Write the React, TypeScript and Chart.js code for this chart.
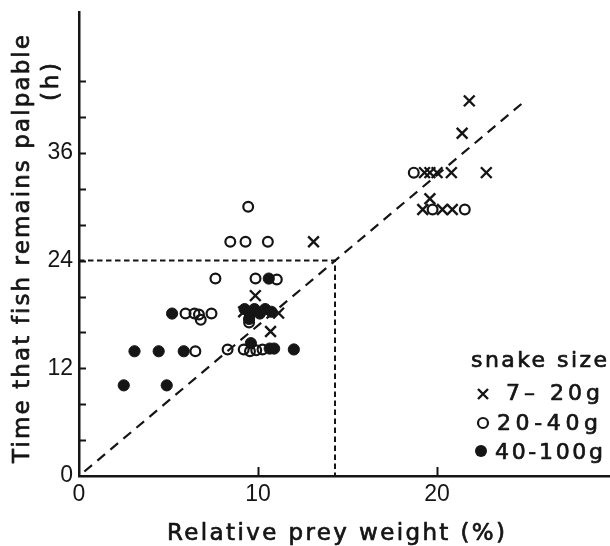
import React, { useEffect, useRef } from 'react';
import { Chart, registerables } from 'chart.js';

Chart.register(...registerables);

// ---------- data ----------
const seriesLabels = ['7– 20g', '20-40g', '40-100g'];
const legendTitle = 'snake size';
const xTitle = 'Relative prey weight (%)';
const yTitle = 'Time that fish remains palpable';
const yUnit = '(h)';

const xTickValues = [0, 10, 20];
const yTickValues = [4, 8, 12, 16, 20, 24, 28, 32, 36, 40, 44];
const yLabelValues = [0, 12, 24, 36];
const X_MAX = 29.66;
const Y_MAX = 51.7;

// snakes 7-20 g (crosses)
const smallSnakes: [number, number][] = [
  [13.1, 26.1], [9.85, 20.1], [11.15, 18.15], [10.7, 16.1], [9.2, 18.3],
  [21.8, 41.8], [21.4, 38.2],
  [19.3, 33.8], [19.6, 33.8], [20.0, 33.8], [20.8, 33.8], [22.75, 33.8],
  [19.6, 30.9], [19.2, 29.7], [20.3, 29.7], [20.85, 29.7],
];

// snakes 20-40 g (open circles)
const mediumSnakes: [number, number][] = [
  [9.45, 30.0],
  [8.45, 26.1], [9.3, 26.1], [10.55, 26.1],
  [7.62, 22.0], [9.86, 22.0], [11.05, 21.9],
  [5.95, 18.1], [6.45, 18.1], [6.7, 18.0], [6.8, 17.4], [7.4, 18.1],
  [9.5, 17.1],
  [6.5, 13.9], [8.3, 14.1], [9.2, 14.1], [9.55, 13.9], [9.9, 14.0], [10.25, 14.1],
  [18.7, 33.8], [19.75, 29.7], [21.55, 29.7],
];

// snakes 40-100 g (filled circles)
const largeSnakes: [number, number][] = [
  [10.6, 22.0],
  [5.2, 18.1],
  [9.25, 18.6], [9.55, 18.0], [9.8, 18.6], [10.1, 18.1], [10.4, 18.6], [10.75, 18.3], [9.5, 17.5],
  [3.1, 13.9], [4.45, 13.9], [5.85, 13.9],
  [9.6, 14.8], [10.65, 14.2], [10.9, 14.2], [12.0, 14.1],
  [2.5, 10.1], [4.9, 10.1],
];

const diagonalLine: [number, number][] = [[0.3, 0.5], [24.8, 41.6]];
const thresholdLine: [number, number][] = [[0, 24], [14.3, 24], [14.3, 0]];

// ---------- styling ----------
const INK = '#151515';
const TEXT_FONT = '"DejaVu Sans", "Noto Sans", sans-serif';
const TICK_FONT = '"Liberation Sans", Arial, sans-serif';

const toXY = (arr: [number, number][]) => arr.map(([x, y]) => ({ x, y }));

function fitText(ctx: CanvasRenderingContext2D, text: string, left: number, baseline: number, width: number, thicken = 0.7) {
  (ctx as any).letterSpacing = '0px';
  const w = ctx.measureText(text).width;
  const n = Array.from(text).length;
  const s = n > 1 ? (width - w) / (n - 1) : 0;
  (ctx as any).letterSpacing = s + 'px';
  ctx.textAlign = 'left';
  ctx.textBaseline = 'alphabetic';
  ctx.fillText(text, left, baseline);
  if (thicken > 0) {
    ctx.lineWidth = thicken;
    ctx.lineJoin = 'round';
    ctx.strokeText(text, left, baseline);
  }
  (ctx as any).letterSpacing = '0px';
}

function drawCross(ctx: CanvasRenderingContext2D, x: number, y: number, h: number) {
  ctx.beginPath();
  ctx.moveTo(x - h, y - h); ctx.lineTo(x + h, y + h);
  ctx.moveTo(x + h, y - h); ctx.lineTo(x - h, y + h);
  ctx.stroke();
}

const inwardTicks = {
  id: 'inwardTicks',
  afterDraw(chart: any) {
    const { ctx, chartArea, scales } = chart;
    ctx.save();
    ctx.strokeStyle = INK;
    ctx.lineWidth = 2;
    ctx.beginPath();
    for (const v of yTickValues) {
      const py = Math.round(scales.y.getPixelForValue(v)) + 0.5;
      ctx.moveTo(chartArea.left, py);
      ctx.lineTo(chartArea.left + 7, py);
    }
    for (const v of xTickValues) {
      if (v === 0) continue;
      const px = Math.round(scales.x.getPixelForValue(v)) + 0.5;
      ctx.moveTo(px, chartArea.bottom);
      ctx.lineTo(px, chartArea.bottom - 9);
    }
    ctx.stroke();
    ctx.restore();
  },
};

const annotations = {
  id: 'annotations',
  afterDraw(chart: any) {
    const { ctx } = chart;
    ctx.save();
    ctx.fillStyle = INK;
    ctx.strokeStyle = INK;

    // x title
    ctx.font = `23px ${TEXT_FONT}`;
    fitText(ctx, xTitle, 167, 540, 338);

    // y title
    ctx.save();
    ctx.translate(29, 463);
    ctx.rotate(-Math.PI / 2);
    fitText(ctx, yTitle, 0, 0, 428);
    ctx.restore();

    ctx.save();
    ctx.translate(58, 101);
    ctx.rotate(-Math.PI / 2);
    fitText(ctx, yUnit, 0, 0, 38);
    ctx.restore();

    // legend
    ctx.font = `22px ${TEXT_FONT}`;
    fitText(ctx, legendTitle, 471, 367, 136);

    ctx.lineWidth = 2.4;
    drawCross(ctx, 483, 394, 5);
    fitText(ctx, seriesLabels[0], 506, 400, 94);

    ctx.lineWidth = 2.2;
    ctx.beginPath();
    ctx.arc(483, 423, 5, 0, Math.PI * 2);
    ctx.stroke();
    fitText(ctx, seriesLabels[1], 497, 430, 101);

    ctx.beginPath();
    ctx.arc(481, 451, 6, 0, Math.PI * 2);
    ctx.fill();
    fitText(ctx, seriesLabels[2], 495, 459, 108);

    ctx.restore();
  },
};

export default function App() {
  const canvasRef = useRef<HTMLCanvasElement | null>(null);

  useEffect(() => {
    if (!canvasRef.current) return;
    const chart = new Chart(canvasRef.current, {
      type: 'scatter',
      data: {
        datasets: [
          {
            label: seriesLabels[0],
            data: toXY(smallSnakes),
            pointStyle: 'crossRot',
            radius: 7.6,
            borderWidth: 2.4,
            borderColor: INK,
            backgroundColor: INK,
          },
          {
            label: seriesLabels[1],
            data: toXY(mediumSnakes),
            pointStyle: 'circle',
            radius: 4.9,
            borderWidth: 2.2,
            borderColor: INK,
            backgroundColor: 'rgba(0,0,0,0)',
          },
          {
            label: seriesLabels[2],
            data: toXY(largeSnakes),
            pointStyle: 'circle',
            radius: 5.6,
            borderWidth: 1,
            borderColor: INK,
            backgroundColor: INK,
          },
          {
            label: 'fit',
            data: toXY(diagonalLine),
            showLine: true,
            pointRadius: 0,
            borderColor: INK,
            borderWidth: 2.2,
            borderDash: [10, 7],
          },
          {
            label: 'threshold',
            data: toXY(thresholdLine),
            showLine: true,
            pointRadius: 0,
            borderColor: INK,
            borderWidth: 2,
            borderDash: [5.5, 3.5],
          },
        ],
      },
      options: {
        animation: false,
        responsive: false,
        events: [],
        layout: { padding: { top: 12, right: 0, left: 0, bottom: 0 }, autoPadding: false },
        plugins: { legend: { display: false }, tooltip: { enabled: false } },
        scales: {
          x: {
            type: 'linear',
            min: 0,
            max: X_MAX,
            afterBuildTicks: (s: any) => { s.ticks = xTickValues.map((v) => ({ value: v })); },
            afterFit: (s: any) => {
              s.height = 70;
              s.paddingLeft = 0;
              s.paddingRight = 0;
              s.paddingTop = 0;
              s.paddingBottom = 0;
            },
            grid: { display: false, drawTicks: false },
            border: { display: true, color: INK, width: 2.5 },
            ticks: {
              color: INK,
              font: { family: TICK_FONT, size: 23 },
              padding: 5,
              maxRotation: 0,
              autoSkip: false,
              callback: (v: any) => String(v),
            },
          },
          y: {
            type: 'linear',
            min: 0,
            max: Y_MAX,
            afterBuildTicks: (s: any) => { s.ticks = yLabelValues.map((v) => ({ value: v })); },
            afterFit: (s: any) => {
              s.width = 79;
              s.paddingTop = 0;
              s.paddingBottom = 0;
              s.paddingLeft = 0;
              s.paddingRight = 0;
            },
            grid: { display: false, drawTicks: false },
            border: { display: true, color: INK, width: 2.5 },
            ticks: {
              color: INK,
              font: { family: TICK_FONT, size: 23 },
              padding: 6,
              autoSkip: false,
              callback: (v: any) => String(v),
            },
          },
        },
      } as any,
      plugins: [inwardTicks, annotations],
    });
    return () => chart.destroy();
  }, []);

  return (
    <div style={{ position: 'fixed', left: 0, top: 0, width: 610, height: 546, background: '#fff' }}>
      <canvas ref={canvasRef} width={610} height={546} style={{ display: 'block' }} />
    </div>
  );
}
